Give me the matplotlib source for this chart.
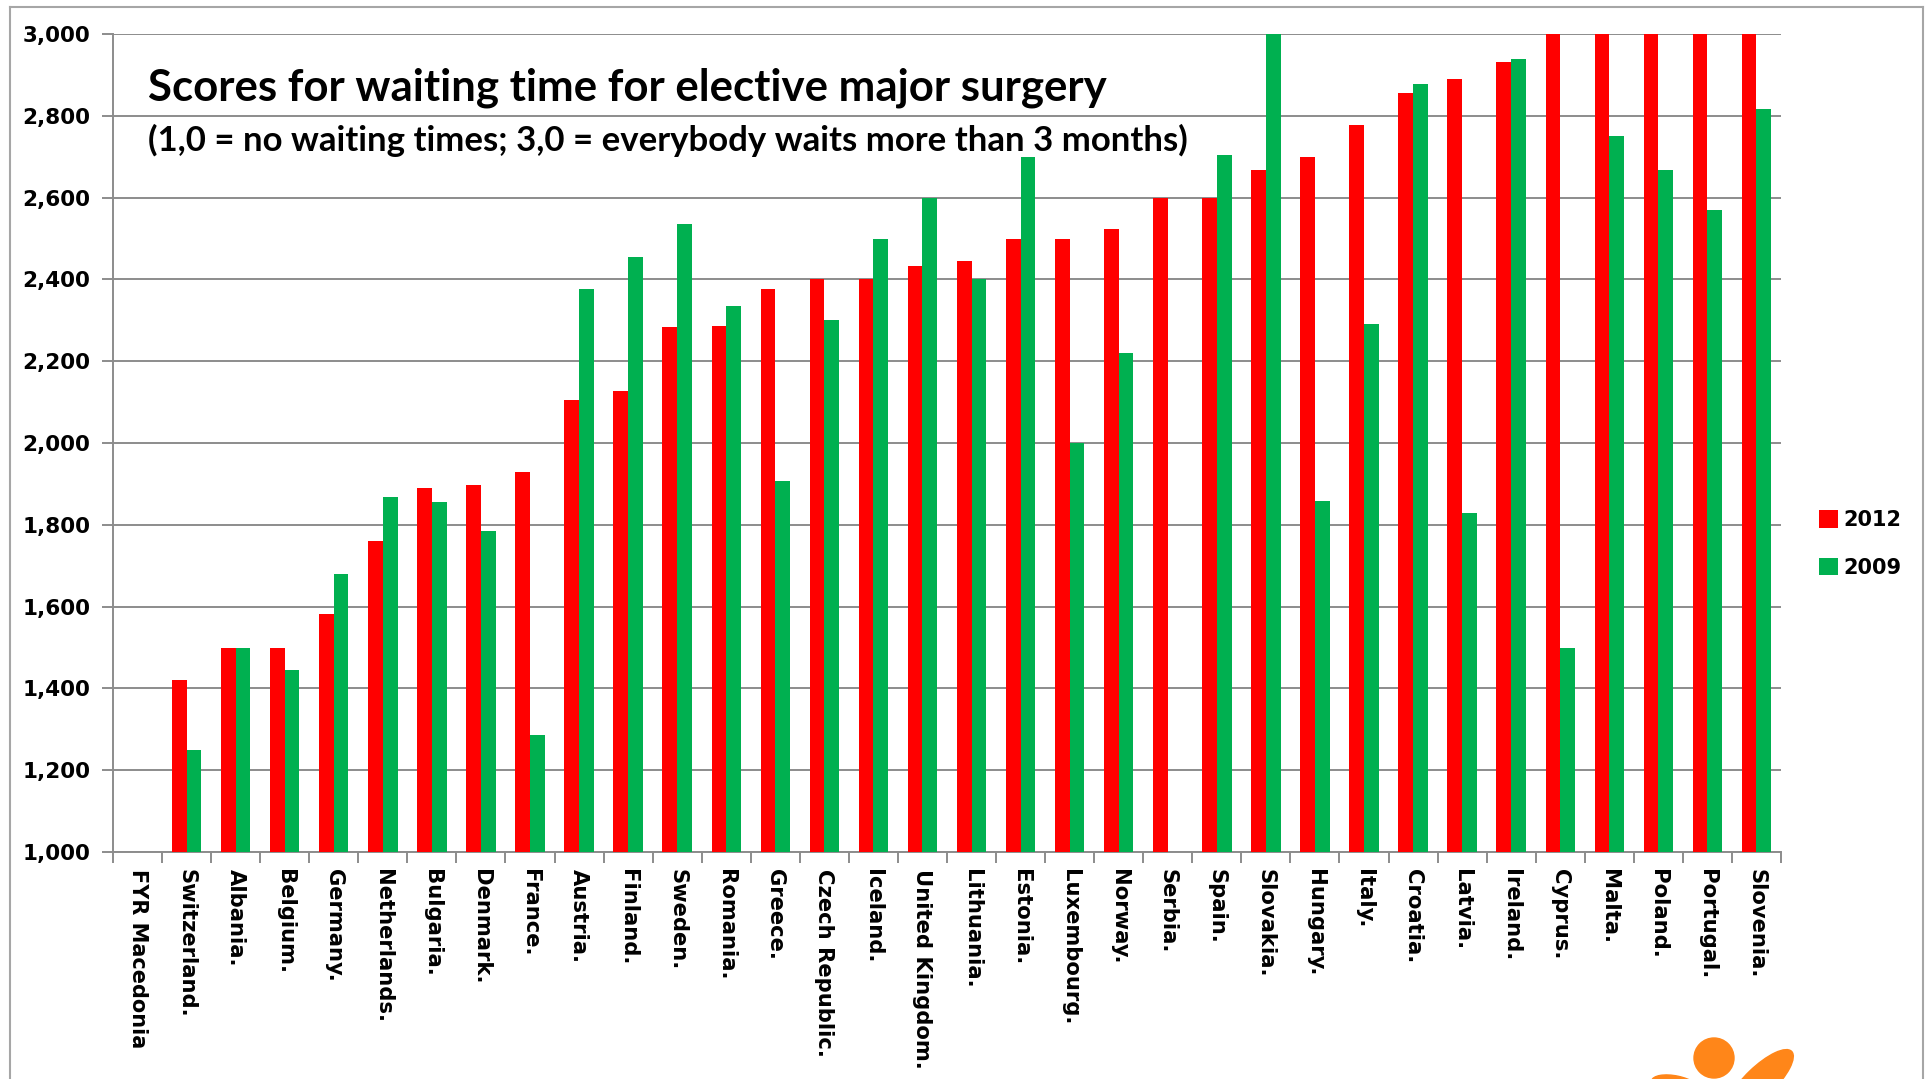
import matplotlib
matplotlib.use("Agg")
import matplotlib.pyplot as plt
import numpy as np
from matplotlib.patches import Ellipse
from matplotlib.lines import Line2D
from matplotlib.transforms import IdentityTransform
from matplotlib.ticker import FuncFormatter, MultipleLocator

countries = ["FYR Macedonia", "Switzerland.", "Albania.", "Belgium.", "Germany.", "Netherlands.",
             "Bulgaria.", "Denmark.", "France.", "Austria.", "Finland.", "Sweden.", "Romania.",
             "Greece.", "Czech Republic.", "Iceland.", "United Kingdom.", "Lithuania.", "Estonia.",
             "Luxembourg.", "Norway.", "Serbia.", "Spain.", "Slovakia.", "Hungary.", "Italy.",
             "Croatia.", "Latvia.", "Ireland.", "Cyprus.", "Malta.", "Poland.", "Portugal.", "Slovenia."]
scores_2012 = [np.nan, 1.42, 1.50, 1.50, 1.583, 1.76, 1.889, 1.898, 1.928, 2.105, 2.127, 2.283, 2.286,
               2.377, 2.40, 2.40, 2.433, 2.446, 2.50, 2.50, 2.524, 2.60, 2.60, 2.667, 2.70, 2.778,
               2.855, 2.889, 2.931, 3.00, 3.00, 3.00, 3.00, 3.00]
scores_2009 = [np.nan, 1.25, 1.50, 1.444, 1.68, 1.867, 1.855, 1.786, 1.286, 2.377, 2.455, 2.536, 2.334,
               1.907, 2.30, 2.50, 2.60, 2.40, 2.70, 2.00, 2.22, np.nan, 2.705, 3.00, 1.857, 2.29,
               2.877, 1.83, 2.94, 1.50, 2.75, 2.667, 2.57, 2.816]
series_labels = ["2012", "2009"]
title = "Scores for waiting time for elective major surgery"
subtitle = "(1,0 = no waiting times; 3,0 = everybody waits more than 3 months)"

RED = "#FF0000"
GREEN = "#00B050"
GRID = "#8C8C8C"

W, H = 1930, 1079
fig = plt.figure(figsize=(W / 100, H / 100), dpi=100)
fig.patch.set_facecolor("white")

left, right, bottom, top = 113, 1781, 852, 34
ax = fig.add_axes([left / W, 1 - bottom / H, (right - left) / W, (bottom - top) / H])

x = np.arange(len(countries))
bw = 0.3
b1 = ax.bar(x - bw / 2, scores_2012, width=bw, color=RED, label=series_labels[0], zorder=3)
b2 = ax.bar(x + bw / 2, scores_2009, width=bw, color=GREEN, label=series_labels[1], zorder=3)

ax.set_xlim(-0.5, len(countries) - 0.5)
ax.set_ylim(1.0, 3.0)
ax.yaxis.set_major_locator(MultipleLocator(0.2))
ax.yaxis.set_major_formatter(FuncFormatter(lambda v, p: f"{v:.3f}".replace(".", ",")))
ax.grid(axis="y", color=GRID, linewidth=1.4, zorder=0)
ax.set_axisbelow(True)

for s in ["top", "right"]:
    ax.spines[s].set_visible(False)
for s in ["left", "bottom"]:
    ax.spines[s].set_color(GRID)
    ax.spines[s].set_linewidth(1.4)

ax.tick_params(axis="y", direction="out", length=8, width=1.4, color=GRID, pad=8.5,
               labelsize=15.5, labelcolor="black")
for t in ax.get_yticklabels():
    t.set_fontweight("bold")
    t.set_family("DejaVu Sans")

# x ticks at category boundaries, labels at centers
ax.set_xticks(np.arange(len(countries) + 1) - 0.5)
ax.set_xticklabels([])
ax.tick_params(axis="x", direction="out", length=8, width=1.4, color=GRID)
for i, name in enumerate(countries):
    if i == 0:
        ax.text(i, -0.021, name, transform=ax.get_xaxis_transform(), rotation=-90,
                ha="center", va="top", fontsize=15, fontweight="bold",
                family=["Liberation Sans Narrow", "DejaVu Sans"])
    else:
        ax.text(i, -0.021, name, transform=ax.get_xaxis_transform(), rotation=-90,
                ha="center", va="top", fontsize=15.2, fontweight="bold", family="DejaVu Sans")

# title texts
fig.text(148 / W, 1 - 88 / H, title, ha="left", va="center", fontsize=31.5,
         fontweight="bold", family="Lato")
fig.text(148 / W, 1 - 140 / H, subtitle, ha="left", va="center", fontsize=25,
         fontweight="bold", family="Lato")

# legend
leg = fig.legend(handles=[b1, b2], labels=series_labels, loc="center left",
                 bbox_to_anchor=(1800 / W, 1 - 544 / H), frameon=False,
                 handlelength=0.9, handleheight=0.9, handletextpad=0.3,
                 labelspacing=1.32, prop={"family": "DejaVu Sans", "weight": "bold", "size": 15})

# outer frame
fc = "#A6A6A6"
fig.add_artist(Line2D([10 / W, 10 / W], [0, 1 - 7 / H], transform=fig.transFigure, color=fc, lw=1.5))
fig.add_artist(Line2D([10 / W, 1923 / W], [1 - 7 / H, 1 - 7 / H], transform=fig.transFigure, color=fc, lw=1.5))
fig.add_artist(Line2D([1923 / W, 1923 / W], [0, 1 - 7 / H], transform=fig.transFigure, color=fc, lw=1.5))

# decorative logo (pixel coordinates, origin bottom-left)
orange = "#FF8619"
pix = IdentityTransform()
fig.add_artist(Ellipse((1714, H - 1058), 40, 40, transform=pix, color=orange))
fig.add_artist(Ellipse((1760, H - 1082), 88, 30, angle=44, transform=pix, color=orange))
fig.add_artist(Ellipse((1676, H - 1086), 50, 20, angle=-12, transform=pix, color=orange))

fig.savefig("out.png", dpi=100, facecolor="white")
